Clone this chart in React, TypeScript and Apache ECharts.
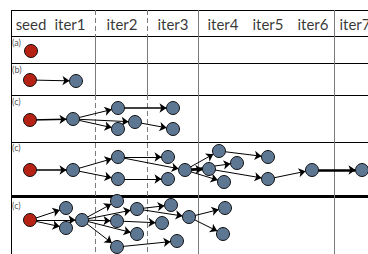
import React, { useEffect, useRef } from "react";
import * as echarts from "echarts";

// Column header labels and their centre positions (chart units = px)
const columnLabels = ["seed", "iter1", "iter2", "iter3", "iter4", "iter5", "iter6", "iter7"];
const columnLabelX = [31, 70, 122, 173, 223, 268, 313, 355];
const headerY = 24;

// Row labels
const rowLabels = ["(a)", "(b)", "(c)", "(c)", "(c)"];
const rowLabelY = [42, 69, 101, 147, 205];
const rowLabelX = 12;

// Table grid
const rowBoundaries = [10, 36, 63, 95, 142, 196];
const columnBoundaries = [95, 147, 198, 334];
const dashedColumns = [95, 147];
const tableLeft = 11;
const tableRight = 368;
const tableBottom = 254;

// Nodes: x, y
const nodeX = [
  31,
  30, 76,
  30, 73, 118, 118, 135, 173, 173,
  30, 73, 118, 118, 168, 168, 185, 219, 209, 237, 224, 268, 268, 312, 362,
  30, 66, 66, 82, 117, 137, 117, 137, 117, 171, 162, 189, 177, 225, 223,
];
const nodeY = [
  51,
  80, 81,
  120, 119, 108, 129, 122, 108, 129,
  170, 170, 157, 179, 157, 179, 170, 151, 169, 163, 182, 157, 179, 170, 170,
  220, 208, 228, 220, 201, 209, 221, 234, 247, 205, 223, 217, 241, 208, 234,
];
const seedNodes = [0, 1, 3, 10, 25];

// Links: source -> target
const linkFrom = [
  1,
  3, 4, 4, 4, 5, 7,
  10, 11, 11, 12, 12, 13, 16, 16, 16, 16, 17, 18, 22, 23,
  25, 25, 25, 28, 28, 28, 28, 28, 30, 30, 31, 33, 36, 36,
];
const linkTo = [
  2,
  4, 5, 7, 6, 8, 9,
  11, 12, 13, 14, 16, 15, 17, 18, 19, 20, 21, 22, 23, 24,
  26, 27, 28, 29, 30, 31, 32, 33, 34, 36, 35, 37, 38, 39,
];
const heavyLinks = ["16-18", "23-24"];
const mediumLinks = ["3-4", "10-11", "5-8"];

export default function App() {
  const ref = useRef<HTMLDivElement>(null);

  useEffect(() => {
    if (!ref.current) return;
    const chart = echarts.init(ref.current, undefined, { renderer: "svg" });

    const gridLines: any[] = [];
    rowBoundaries.forEach((y, i) => {
      gridLines.push({
        coords: [[tableLeft, y], [tableRight, y]],
        lineStyle: { color: "#000", width: i === rowBoundaries.length - 1 ? 3 : 1, type: "solid", opacity: 1 },
      });
    });
    gridLines.push({
      coords: [[tableLeft, rowBoundaries[0]], [tableLeft, tableBottom]],
      lineStyle: { color: "#000", width: 1, type: "solid", opacity: 1 },
    });
    columnBoundaries.forEach((x) => {
      const dashed = dashedColumns.includes(x);
      const bands: [number, number, boolean][] = [
        [rowBoundaries[0], rowBoundaries[1], dashed],
        [rowBoundaries[1], rowBoundaries[3], false],
        [rowBoundaries[3], tableBottom, dashed],
      ];
      bands.forEach(([y0, y1, d]) => {
        gridLines.push({
          coords: [[x, y0], [x, y1]],
          lineStyle: { color: "#7a7a7a", width: 1, type: d ? [5, 3] : "solid", opacity: 1 },
        });
      });
    });

    const nodes = nodeX.map((x, i) => ({
      value: [x, nodeY[i]],
      itemStyle: { color: seedNodes.includes(i) ? "#b52214" : "#5d7692" },
    }));
    const links = linkFrom.map((s, i) => {
      const key = s + "-" + linkTo[i];
      const w = heavyLinks.includes(key) ? 2.6 : mediumLinks.includes(key) ? 1.5 : 1;
      return { source: s, target: linkTo[i], lineStyle: { width: w } };
    });

    chart.setOption({
      animation: false,
      grid: { left: 0, right: 0, top: 0, bottom: 0 },
      xAxis: { type: "value", min: 0, max: 368, show: false },
      yAxis: { type: "value", min: 0, max: 254, inverse: true, show: false },
      series: [
        {
          type: "lines",
          coordinateSystem: "cartesian2d",
          silent: true,
          z: 1,
          lineStyle: { opacity: 1 },
          data: gridLines,
        },
        {
          type: "graph",
          coordinateSystem: "cartesian2d",
          layout: "none",
          z: 3,
          symbol: "circle",
          symbolSize: 13,
          data: nodes,
          links,
          edgeSymbol: ["none", "arrow"],
          edgeSymbolSize: [0, 7],
          itemStyle: { borderColor: "#111", borderWidth: 1 },
          lineStyle: { color: "#000", width: 1, opacity: 1, curveness: 0 },
          label: { show: false },
          emphasis: { disabled: true },
          silent: true,
        },
        {
          type: "scatter",
          z: 4,
          silent: true,
          symbolSize: 1,
          itemStyle: { color: "transparent" },
          data: columnLabels.map((t, i) => ({ value: [columnLabelX[i], headerY], name: t })),
          label: {
            show: true,
            position: "inside",
            formatter: (p: any) => p.name,
            fontFamily: "Lato",
            fontSize: 15,
            color: "#000",
            align: "center",
            verticalAlign: "middle",
          },
        },
        {
          type: "scatter",
          z: 4,
          silent: true,
          symbolSize: 1,
          itemStyle: { color: "transparent" },
          data: rowLabels.map((t, i) => ({ value: [rowLabelX, rowLabelY[i]], name: t })),
          label: {
            show: true,
            position: "inside",
            formatter: (p: any) => p.name,
            fontFamily: "Lato",
            fontSize: 9,
            color: "#222",
            align: "left",
            verticalAlign: "middle",
          },
        },
      ],
    });
    return () => chart.dispose();
  }, []);

  return (
    <div
      ref={ref}
      style={{ position: "fixed", left: 0, top: 0, width: 368, height: 254, background: "#fff" }}
    />
  );
}
